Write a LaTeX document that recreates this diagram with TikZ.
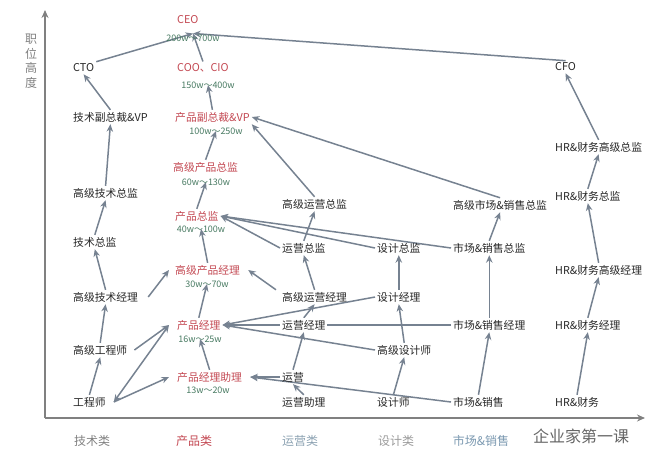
\documentclass[tikz,border=0pt]{standalone}
\usepackage{fontspec}
\usepackage{tikz}
\usetikzlibrary{backgrounds, arrows.meta}
\newfontfamily\cjk{Noto Sans CJK SC}
\definecolor{linkgray}{RGB}{118,130,145}
\definecolor{axisgray}{RGB}{128,128,128}
\definecolor{prodred}{RGB}{195,72,82}
\definecolor{paygreen}{RGB}{72,122,98}
\definecolor{opsblue}{RGB}{140,162,178}
\definecolor{mktblue}{RGB}{122,152,176}

\begin{document}
\begin{tikzpicture}[x=1pt,y=-1pt,
  job/.style={anchor=west, inner sep=2pt, text=black!85, font=\cjk\fontsize{10.8}{12}\selectfont},
  prod/.style={job, text=prodred},
  pay/.style={inner sep=1pt, text=paygreen, font=\cjk\fontsize{9}{10}\selectfont},
  cat/.style={font=\cjk\fontsize{12}{14}\selectfont},
  link/.style={->, >={Stealth[length=7.5pt, width=6.5pt]}, line width=1.5pt, draw=linkgray},
  axis/.style={->, >={Stealth[length=8pt, width=7pt]}, line width=1.6pt, draw=axisgray}]
\useasboundingbox (0,0) rectangle (654,451);

% axes
\coordinate (origin) at (45,418);
\coordinate (ytop) at (45,10);
\coordinate (xend) at (645,418);
\draw[axis] (origin) -- (ytop);
\draw[axis] (origin) -- (xend);
\node[cat, text=axisgray, align=center, font=\cjk\fontsize{12}{14.5}\selectfont] (yname) at (31,61) {职\\位\\高\\度};

% categories
\node[cat, text=axisgray] (c-tech) at (92,441) {技术类};
\node[cat, text=prodred] (c-prod) at (194,441) {产品类};
\node[cat, text=opsblue] (c-ops) at (300,441) {运营类};
\node[cat, text=axisgray!80] (c-des) at (396,441) {设计类};
\node[cat, text=mktblue] (c-mkt) at (481,441) {市场\&销售};
\node[text=black!60, font=\cjk\fontsize{16}{18}\selectfont] (wmark) at (581,436) {企业家第一课};

% tech
\node[job] (cto) at (71,68) {CTO};
\node[job] (techvp) at (71,117) {技术副总裁\&VP};
\node[job] (srtechdir) at (71,193) {高级技术总监};
\node[job] (techdir) at (71,242) {技术总监};
\node[job] (srtechmgr) at (71,297) {高级技术经理};
\node[job] (sreng) at (71,350) {高级工程师};
\node[job] (eng) at (71,402) {工程师};

% product
\node[prod] (ceo) at (175,20) {CEO};
\node[pay] (ceo-pay) at (193,38) {200w～700w};
\node[prod] (coo) at (175,68) {COO、CIO};
\node[pay] (coo-pay) at (208,85) {150w～400w};
\node[prod] (prodvp) at (173,117) {产品副总裁\&VP};
\node[pay] (prodvp-pay) at (216,131) {100w～250w};
\node[prod] (srproddir) at (171,167) {高级产品总监};
\node[pay] (srproddir-pay) at (206,182) {60w～130w};
\node[prod] (proddir) at (173,216) {产品总监};
\node[pay] (proddir-pay) at (201,229) {40w～100w};
\node[prod] (srpm) at (173,270) {高级产品经理};
\node[pay] (srpm-pay) at (207,284) {30w～70w};
\node[prod] (pm) at (175,325) {产品经理};
\node[pay] (pm-pay) at (200,339) {16w～25w};
\node[prod] (apm) at (175,377) {产品经理助理};
\node[pay] (apm-pay) at (208,390) {13w～20w};

% operations
\node[job] (sropsdir) at (280,204) {高级运营总监};
\node[job] (opsdir) at (280,248) {运营总监};
\node[job] (sropsmgr) at (280,297) {高级运营经理};
\node[job, fill=white] (opsmgr) at (280,325) {运营经理};
\node[job] (ops) at (280,377) {运营};
\node[job] (opsasst) at (280,402) {运营助理};

% design
\node[job] (desdir) at (375,248) {设计总监};
\node[job] (desmgr) at (375,297) {设计经理};
\node[job] (srdes) at (375,350) {高级设计师};
\node[job] (des) at (375,402) {设计师};

% market & sales
\node[job] (srmktdir) at (451,205) {高级市场\&销售总监};
\node[job] (mktdir) at (451,248) {市场\&销售总监};
\node[job] (mktmgr) at (451,325) {市场\&销售经理};
\node[job] (mkt) at (451,402) {市场\&销售};

% hr & finance
\node[job] (cfo) at (553,67) {CFO};
\node[job] (hrsrdir) at (553,147) {HR\&财务高级总监};
\node[job] (hrdir) at (553,196) {HR\&财务总监};
\node[job] (hrsrmgr) at (553,270) {HR\&财务高级经理};
\node[job] (hrmgr) at (553,325) {HR\&财务经理};
\node[job] (hr) at (553,402) {HR\&财务};

\begin{scope}[on background layer]
% into CEO
\draw[link] (cto.north east) -- (ceo-pay.north);
\draw[link] (coo.north) -- (ceo-pay.north);
\draw[link] (cfo.north) -- (ceo-pay.north);
% tech chain
\draw[link] (techvp.north) -- (cto.south);
\draw[link] (srtechdir.north) -- (techvp.south);
\draw[link] (techdir.north) -- (srtechdir.south);
\draw[link] (srtechmgr.north) -- (techdir.south);
\draw[link] (sreng.north) -- (srtechmgr.south);
\draw[link] (eng.north) -- (sreng.south);
\draw[link] ([xshift=8pt]srtechmgr.east) -- ([xshift=-4pt]srpm.west);
\draw[link] ([xshift=5pt]sreng.east) -- ([xshift=-6pt]pm.west);
\draw[link, <->] ([xshift=6pt]eng.east) -- ([xshift=-6pt]pm.west);
\draw[link] ([xshift=6pt]eng.east) -- ([xshift=-6pt]apm.west);
% product chain
\draw[link] (prodvp.north) -- (coo-pay.center);
\draw[link] (srproddir.north) -- (prodvp-pay.center);
\draw[link] (proddir.north) -- (srproddir-pay.center);
\draw[link] (srpm.north) -- (proddir-pay.center);
\draw[link] (pm.north) -- (srpm-pay.center);
\draw[link] (apm.north) -- (pm-pay.center);
% operations
\draw[link] (srmktdir.north) -- (prodvp.east);
\draw[link] (sropsdir.north) -- (prodvp.south east);
\draw[link] (opsdir.north) -- (sropsdir.south);
\draw[link] (opsdir.west) -- (proddir.east);
\draw[link] (desdir.west) -- (proddir.east);
\draw[link] (mktdir.west) -- (proddir.east);
\draw[link] (sropsmgr.north) -- (opsdir.south);
\draw[link] ([xshift=-4pt]sropsmgr.north west) -- ([xshift=6pt]srpm.east);
\draw[link] (opsmgr.north) -- (sropsmgr.south);
\draw[link] (mktmgr.west) -- (pm.east);
\draw[link] (desmgr.west) -- (pm.east);
\draw[link] (srdes.west) -- (pm.east);
\draw[link] (ops.north) -- (opsmgr.south);
\draw[link] (opsasst.north) -- (ops.south);
\draw[link] (ops.west) -- ([xshift=6pt]apm.east);
\draw[link] (mkt.west) -- ([xshift=6pt]apm.east);
% design
\draw[link] (desmgr.north) -- (desdir.south);
\draw[link] (srdes.north) -- (desmgr.south);
\draw[link] (des.north) -- (srdes.south);
% market & sales
\draw[link] (mktdir.north) -- (srmktdir.south);
\draw[link] (mktmgr.north) -- (mktdir.south);
\draw[link] (mkt.north) -- (mktmgr.south);
% hr & finance
\draw[link] (hr.north) -- (hrmgr.south);
\draw[link] (hrmgr.north) -- (hrsrmgr.south);
\draw[link] (hrsrmgr.north) -- (hrdir.south);
\draw[link] (hrdir.north) -- (hrsrdir.south);
\draw[link] (hrsrdir.north) -- (cfo.south);
\end{scope}
\end{tikzpicture}
\end{document}
